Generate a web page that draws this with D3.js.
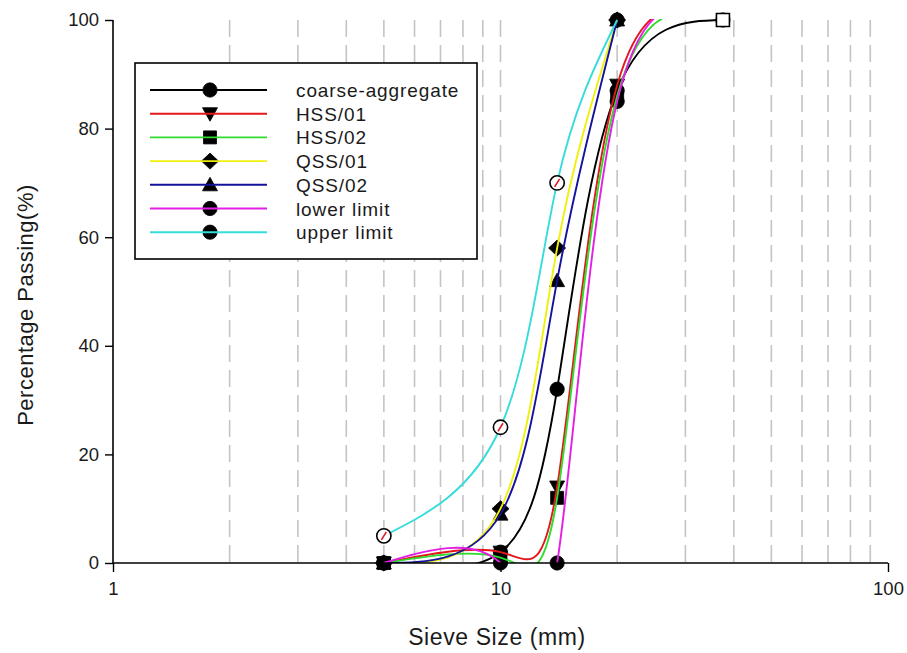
<!DOCTYPE html>
<html>
<head>
<meta charset="utf-8">
<script src="https://cdn.jsdelivr.net/npm/d3@7"></script>
<style>
  html, body { margin: 0; padding: 0; background: #fff; }
  svg { display: block; font-family: "Liberation Sans", Arial, sans-serif; }
</style>
</head>
<body>
<svg id="chart" width="907" height="653"></svg>
<script>
// Sieve sizes (mm) and percentage passing for each grading curve
const coarseSizes = [5, 10, 14, 20, 37.5];
const coarseValues = [0, 2, 32, 87, 100];
const hss01Sizes = [5, 10, 14, 20, 37.5];
const hss01Values = [0, 2, 14, 88, 100];
const hss02Sizes = [5, 10, 14, 20, 37.5];
const hss02Values = [0, 1, 12, 86, 100];
const qss01Sizes = [5, 10, 14, 20];
const qss01Values = [0, 10, 58, 100];
const qss02Sizes = [5, 10, 14, 20];
const qss02Values = [0, 9, 52, 100];
const lowerSizes = [5, 10, 14, 20, 37.5];
const lowerValues = [0, 0, 0, 85, 100];
const upperSizes = [5, 10, 14, 20];
const upperValues = [5, 25, 70, 100];

const seriesNames = ["coarse-aggregate", "HSS/01", "HSS/02", "QSS/01", "QSS/02", "lower limit", "upper limit"];
const xTickValues = [1, 10, 100];
const yTickValues = [0, 20, 40, 60, 80, 100];

// Drawing styles per series: colour, symbol, points with filled symbols
// (under the curve) and points with open symbols (over the curve)
const styles = [
  { color: "#000000", symbol: "circle",  filled: [0, 1, 2, 3, 4], open: [4], openSymbol: "square" },
  { color: "#e4161c", symbol: "triDown", filled: [0, 1, 2, 3], open: [] },
  { color: "#2edb2e", symbol: "square",  filled: [0, 1, 2, 3], open: [] },
  { color: "#f0f00c", symbol: "diamond", filled: [0, 1, 2, 3], open: [] },
  { color: "#12129c", symbol: "triUp",   filled: [0, 1, 2, 3], open: [] },
  { color: "#e31fe3", symbol: "circle",  filled: [0, 1, 2, 3], open: [] },
  { color: "#36dcdc", symbol: "circle",  filled: [3], open: [0, 1, 2], openSymbol: "circle", slash: true }
];

const series = [
  [coarseSizes, coarseValues], [hss01Sizes, hss01Values], [hss02Sizes, hss02Values],
  [qss01Sizes, qss01Values], [qss02Sizes, qss02Values], [lowerSizes, lowerValues],
  [upperSizes, upperValues]
].map((d, i) => ({
  name: seriesNames[i],
  points: d[0].map((s, j) => ({ size: s, value: d[1][j] })),
  style: styles[i]
}));

const svg = d3.select("#chart");
const x = d3.scaleLog().domain([1, 100]).range([113, 888]);
const y = d3.scaleLinear().domain([0, 100]).range([563, 20]);

// Vertical dashed grid lines at every log tick inside the range
const gridValues = x.ticks().filter(v => v > 1 && v < 100);
svg.append("g").selectAll("line").data(gridValues).join("line")
  .attr("x1", d => x(d)).attr("x2", d => x(d))
  .attr("y1", y(100)).attr("y2", y(0))
  .attr("stroke", "#c4c4c4").attr("stroke-width", 1.6)
  .attr("stroke-dasharray", "17,8");

svg.append("defs").append("clipPath").attr("id", "plotClip")
  .append("rect").attr("x", x(1)).attr("y", y(100) - 1)
  .attr("width", x(100) - x(1)).attr("height", y(0) - y(100) + 1);

// Marker shapes
function symbolPath(kind) {
  if (kind === "diamond") return "M0,-8L8.5,0L0,8L-8.5,0Z";
  if (kind === "triUp") return "M0,-7.5L7.5,6L-7.5,6Z";
  if (kind === "triDown") return "M0,7.5L7.5,-6L-7.5,-6Z";
  if (kind === "square") return "M-6.5,-6.5H6.5V6.5H-6.5Z";
  return d3.symbol().type(d3.symbolCircle).size(160)();
}
function drawMarker(g, kind, cx, cy, fill) {
  return g.append("path").attr("d", symbolPath(kind))
    .attr("transform", `translate(${cx},${cy})`)
    .attr("fill", fill).attr("stroke", "#000").attr("stroke-width", fill === "#000" ? 0.8 : 1.6);
}

// Filled markers underneath the curves
const markerLayer = svg.append("g");
series.forEach(s => {
  s.style.filled.forEach(j => {
    const p = s.points[j];
    drawMarker(markerLayer, s.style.symbol, x(p.size), y(p.value), "#000");
  });
});

// Spline curves
const lineGen = d3.line().curve(d3.curveNatural).x(d => x(d.size)).y(d => y(d.value));
const curveLayer = svg.append("g").attr("clip-path", "url(#plotClip)");
series.forEach(s => {
  curveLayer.append("path").attr("d", lineGen(s.points))
    .attr("fill", "none").attr("stroke", s.style.color).attr("stroke-width", 1.9);
});

// Open markers above the curves
const openLayer = svg.append("g");
series.forEach(s => {
  s.style.open.forEach(j => {
    const p = s.points[j];
    const cx = x(p.size), cy = y(p.value);
    drawMarker(openLayer, s.style.openSymbol, cx, cy, "#fff");
    if (s.style.slash) {
      openLayer.append("line")
        .attr("x1", cx - 2.5).attr("y1", cy + 4).attr("x2", cx + 2.5).attr("y2", cy - 4)
        .attr("stroke", "#e4161c").attr("stroke-width", 1.6);
    }
  });
});

// Axes
const xAxis = d3.axisBottom(x).tickValues(xTickValues).tickFormat(d3.format("d")).tickSize(9).tickPadding(10);
const yAxis = d3.axisLeft(y).tickValues(yTickValues).tickSize(8).tickPadding(6);
const gx = svg.append("g").attr("transform", `translate(0,${y(0)})`).call(xAxis);
const gy = svg.append("g").attr("transform", `translate(${x(1)},0)`).call(yAxis);
[gx, gy].forEach(g => {
  g.select(".domain").attr("stroke", "#000").attr("stroke-width", 1.6);
  g.selectAll(".tick line").attr("stroke", "#000").attr("stroke-width", 1.4);
  g.selectAll(".tick text").attr("fill", "#1a1a1a").style("font-size", "18.5px")
    .style("font-family", "'Liberation Sans', Arial, sans-serif");
});
gx.select(".domain").attr("d", `M${x(1)},0H${x(100)}`);
gy.select(".domain").attr("d", `M0,${y(100)}V${y(0)}`);

// Axis titles
svg.append("text").attr("x", 497).attr("y", 645).attr("text-anchor", "middle")
  .attr("fill", "#1a1a1a").style("font-size", "23px").style("letter-spacing", "0.6px")
  .text("Sieve Size (mm)");
svg.append("text").attr("transform", "translate(33,305) rotate(-90)").attr("text-anchor", "middle")
  .attr("fill", "#1a1a1a").style("font-size", "22px").style("letter-spacing", "0.5px")
  .text("Percentage Passing(%)");

// Legend
const legend = svg.append("g");
legend.append("rect").attr("x", 135).attr("y", 63).attr("width", 342).attr("height", 196)
  .attr("fill", "#fff").attr("stroke", "#000").attr("stroke-width", 1.6);
series.forEach((s, i) => {
  const ly = 90 + i * 23.7;
  drawMarker(legend, s.style.symbol, 210, ly, "#000");
  legend.append("line").attr("x1", 150).attr("x2", 267).attr("y1", ly).attr("y2", ly)
    .attr("stroke", s.style.color).attr("stroke-width", 1.9);
  legend.append("text").attr("x", 296).attr("y", ly + 7).attr("fill", "#1a1a1a")
    .style("font-size", "19px").style("letter-spacing", "0.9px").text(s.name);
});
</script>
</body>
</html>
